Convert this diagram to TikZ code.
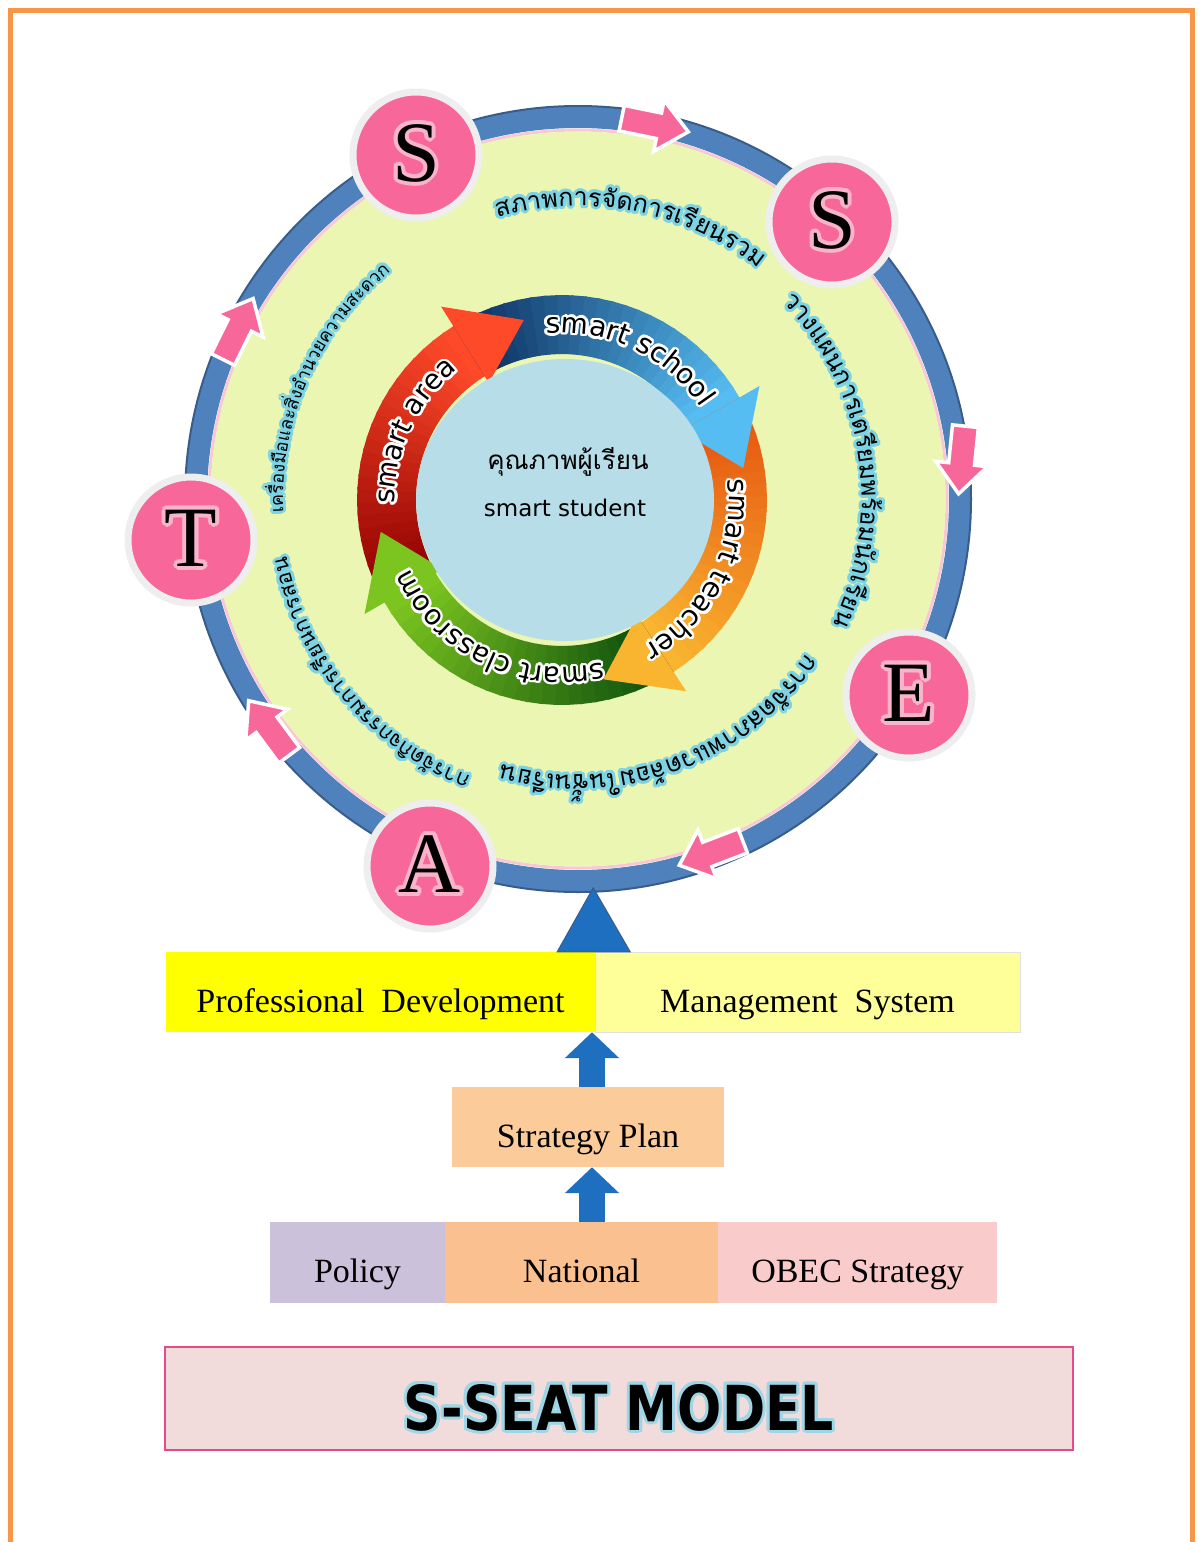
\documentclass[tikz,border=0pt]{standalone}
\usepackage{fontspec}
\usepackage{graphicx}
\usepackage{contour}
\usetikzlibrary{calc,arrows.meta}
\setmainfont{Liberation Serif}
\newfontfamily\thaifont[Script=Thai]{Loma}
\newfontfamily\ringfont{DejaVu Sans}

\definecolor{frameorange}{HTML}{F79646}
\definecolor{ringblue}{HTML}{4F81BD}
\definecolor{ringedge}{HTML}{385D8A}
\definecolor{ringpink}{HTML}{F8C8D4}
\definecolor{fieldgreen}{HTML}{EBF6B2}
\definecolor{letterpink}{HTML}{F7679A}
\definecolor{letterglow}{HTML}{F9B3CB}
\definecolor{letterrim}{HTML}{EEEEEE}
\definecolor{glowcyan}{HTML}{7DD3E3}
\definecolor{diskblue}{HTML}{B7DDE8}
\definecolor{areadark}{HTML}{8E0000}
\definecolor{arealight}{HTML}{FF4A2A}
\definecolor{schooldark}{HTML}{0C2D5E}
\definecolor{schoollight}{HTML}{56BDF2}
\definecolor{teachdark}{HTML}{E5520F}
\definecolor{teachlight}{HTML}{F9B530}
\definecolor{classdark}{HTML}{0B4D0B}
\definecolor{classlight}{HTML}{7CC520}
\definecolor{arrowblue}{HTML}{1F6FC0}
\definecolor{profyellow}{HTML}{FFFF00}
\definecolor{mgmtyellow}{HTML}{FFFF99}
\definecolor{planorange}{HTML}{FBCB9A}
\definecolor{policylilac}{HTML}{CCC1DA}
\definecolor{nationorange}{HTML}{FAC08F}
\definecolor{obecpink}{HTML}{FACBCB}
\definecolor{modelpink}{HTML}{F2DCDB}
\definecolor{modeledge}{HTML}{E8498A}
\definecolor{titleglow}{HTML}{9ED6E6}

\newcommand\thaiarcfont{\thaifont\fontsize{25}{25}\selectfont}
\newcommand\thaismallfont{\thaifont\fontsize{21.5}{21.5}\selectfont}
\newcommand\thaitinyfont{\thaifont\fontsize{18}{18}\selectfont}
\newcommand\ringarcfont{\ringfont\fontsize{28}{28}\selectfont}

\contourlength{3pt}
\newdimen\glyphw
\newbox\glyphbox
\def\arcgap{~}
% width of one cluster, measured outside the picture's font setup
\newcommand\measureglyph[1]{%
  \pgfinterruptpicture\global\setbox\glyphbox\hbox{#1}\endpgfinterruptpicture
  \glyphw=\wd\glyphbox
  \ifdim\glyphw<1pt \glyphw=9pt\fi}
% text set round a circle, clockwise, tops outward
% #1 centre, #2 middle angle, #3 baseline radius, #4 font, #5 glow, #6 clusters
\newcommand\arcwords[6]{%
  \gdef\arcsum{0}%
  \foreach \g in {#6}{%
    \measureglyph{#4\g}%
    \pgfmathsetmacro\tmpsum{\arcsum+\glyphw}%
    \xdef\arcsum{\tmpsum}%
  }%
  \pgfmathsetmacro\tmpang{#2+\arcsum/2/#3*180/pi}%
  \xdef\arcang{\tmpang}%
  \foreach \g in {#6}{%
    \measureglyph{#4\g}%
    \pgfmathsetmacro\midang{\arcang-\glyphw/2/#3*180/pi}%
    \ifx\g\arcgap\else
      \node[arcglyph, rotate=\midang-90] at ($(#1)+(\midang:#3pt)$) {\contour{#5}{#4\g}};
    \fi
    \pgfmathsetmacro\tmpang{\arcang-\glyphw/#3*180/pi}%
    \xdef\arcang{\tmpang}%
  }%
}

\begin{document}
\begin{tikzpicture}[x=1pt, y=-1pt,
  letter/.style={circle, fill=letterpink, draw=letterrim, line width=7pt,
    minimum size=126pt, inner sep=0pt, font=\fontsize{86}{86}\selectfont},
  box/.style={rectangle, minimum height=80pt, inner sep=0pt,
    text height=44pt, text depth=4pt, font=\fontsize{34}{34}\selectfont},
  arcglyph/.style={inner sep=0pt, anchor=base},
  ringarrow/.style={fill=letterpink, draw=white, line width=3.5pt, line join=miter},
  blockarrow/.style={arrowblue, line width=26pt, -{Triangle[width=53pt, length=26pt]}},
]
\useasboundingbox (0,0) rectangle (1202,1542);
\fill[white] (0,0) rectangle (1202,1542);

% frame
\draw[frameorange, line width=5pt] (10,1560) -- (10,10) -- (1192,10) -- (1192,1560);

% outer ring
\coordinate (ring) at (578,499);
\draw[ringblue, line width=22pt] (ring) circle[radius=382pt];
\draw[ringedge, line width=2pt] (ring) circle[radius=393pt];
\draw[ringpink, line width=3pt] (ring) circle[radius=369pt];
\fill[fieldgreen] (ring) circle[radius=367.5pt];

% thai captions round the ring
\arcwords{ring}{79}{293}{\thaiarcfont}{glowcyan}{ส,ภ,า,พ,ก,า,ร,จั,ด,ก,า,ร,เ,รี,ย,น,ร,ว,ม}
\arcwords{ring}{9}{284}{\thaiarcfont}{glowcyan}{ว,า,ง,แ,ผ,น,ก,า,ร,เ,ต,รี,ย,ม,พ,ร้,อ,ม,นั,ก,เ,รี,ย,น}
\arcwords{ring}{-70}{276}{\thaiarcfont}{glowcyan}{ก,า,ร,จั,ด,ส,ภ,า,พ,แ,ว,ด,ล้,อ,ม,ใ,น,ชั้,น,เ,รี,ย,น}
\arcwords{ring}{220}{297}{\thaismallfont}{glowcyan}{ก,า,ร,จั,ด,กิ,จ,ก,ร,ร,ม,ก,า,ร,เ,รี,ย,น,ก,า,ร,ส,อ,น}
\arcwords{ring}{156}{295}{\thaitinyfont}{glowcyan}{เ,ค,รื่,อ,ง,มื,อ,แ,ล,ะ,สิ่,ง,อำ,น,ว,ย,ค,ว,า,ม,ส,ะ,ด,ว,ก}

% inner cycle of four arrows
\coordinate (core) at (562,500);
\foreach \a/\b/\ca/\cb in {210/122/areadark/arealight, 122/30/schooldark/schoollight,
    30/-57/teachdark/teachlight, -57/-150/classdark/classlight}{
  \foreach \k in {0,...,23}{
    \pgfmathsetmacro\angA{\a+(\b-\a)*\k/24}
    \pgfmathsetmacro\angB{\a+(\b-\a)*(\k+1)/24-0.6}
    \pgfmathsetmacro\pct{100*\k/23}
    \fill[\cb!\pct!\ca] ($(core)+(\angA:146pt)$) -- ($(core)+(\angA:205pt)$)
      -- ($(core)+(\angB:205pt)$) -- ($(core)+(\angB:146pt)$) -- cycle;
  }
}
\foreach \b/\c in {122/arealight, 30/schoollight, -57/teachlight, 210/classlight}{
  \pgfmathsetmacro\tip{\b-20}
  \fill[\c] ($(core)+(\b:228pt)$) -- ($(core)+(\tip:184pt)$) -- ($(core)+(\b:138pt)$) -- cycle;
}
\contourlength{2.5pt}
\arcwords{core}{64.5}{167}{\ringarcfont}{white}{s,m,a,r,t,~,s,c,h,o,o,l}
\arcwords{core}{-27}{167}{\ringarcfont}{white}{s,m,a,r,t,~,t,e,a,c,h,e,r}
\arcwords{core}{-116}{167}{\ringarcfont}{white}{s,m,a,r,t,~,c,l,a,s,s,r,o,o,m}
\arcwords{core}{155}{167}{\ringarcfont}{white}{s,m,a,r,t,~,a,r,e,a}

% centre
\fill[diskblue] (565,500) ellipse[x radius=149pt, y radius=141pt];
\node[font=\thaifont\fontsize{26}{26}\selectfont] (quality) at (568,462) {คุณภาพผู้เรียน};
\node[font=\ringfont\fontsize{23}{23}\selectfont] (student) at (565,508) {smart student};

% arrows on the ring
\foreach \px/\py/\ang in {655/125/-11.6, 962/460/-95.8, 711/853/-159, 269/728/126.6, 238/329/63.6}{
  \filldraw[ringarrow, shift={(\px,\py)}, rotate=\ang]
    (-34,-13) -- (4,-13) -- (4,-26) -- (34,0) -- (4,26) -- (4,13) -- (-34,13) -- cycle;
}

% letters
\contourlength{4pt}
\node[letter] (s1) at (416,155) {\contour{letterglow}{S}};
\node[letter] (s2) at (832,222) {\contour{letterglow}{S}};
\node[letter] (e) at (909,695) {\contour{letterglow}{E}};
\node[letter] (a) at (430,866) {\contour{letterglow}{A}};
\node[letter] (t) at (191,540) {\contour{letterglow}{T}};

% foundation boxes
\node[box, fill=profyellow, minimum width=429pt] (prof) at (380.5,992) {Professional\ \ Development};
\node[box, fill=mgmtyellow, draw=black!12, minimum width=425pt] (mgmt) at (807.5,992) {Management\ \ System};
\node[box, fill=planorange, minimum width=272pt] (plan) at (588,1127) {Strategy Plan};
\node[box, fill=policylilac, minimum width=175pt, minimum height=81pt] (policy) at (357.5,1262.5) {Policy};
\node[box, fill=nationorange, minimum width=273pt, minimum height=81pt] (national) at (581.5,1262.5) {National};
\node[box, fill=obecpink, minimum width=279pt, minimum height=81pt] (obec) at (857.5,1262.5) {OBEC Strategy};

\draw[blockarrow] ([xshift=4pt]plan.north) -- ([xshift=4pt]plan.north |- prof.south);
\draw[blockarrow] ([xshift=4pt]plan.south |- national.north) -- ([xshift=4pt]plan.south);
\filldraw[fill=arrowblue, draw=ringedge, line width=1pt] ([xshift=-38pt]prof.north east)
  -- ([xshift=35pt]prof.north east) -- ([xshift=-2pt, yshift=64pt]prof.north east) -- cycle;

% title
\contourlength{3pt}
\node[draw=modeledge, fill=modelpink, line width=1.2pt, minimum width=908pt, minimum height=103pt,
  inner sep=0pt, text height=65pt, text depth=2pt] (model) at (619,1398.5)
  {\contour{titleglow}{\scalebox{0.84}[1]{\ringfont\bfseries\fontsize{62}{62}\selectfont S-SEAT MODEL}}};
\end{tikzpicture}
\end{document}
